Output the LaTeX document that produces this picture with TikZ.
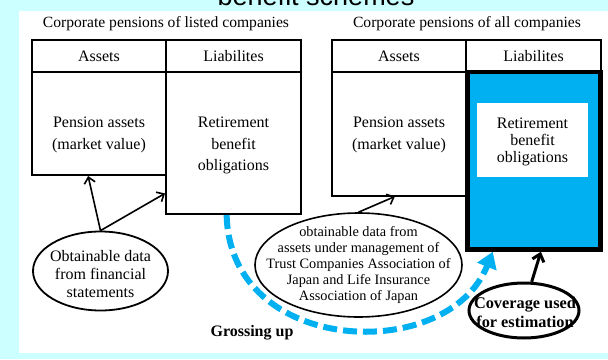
\documentclass[tikz,border=0pt]{standalone}
\usepackage{fontspec}
\setmainfont{Liberation Serif}
\newfontfamily\headfont{Liberation Sans}
\usetikzlibrary{shapes.geometric,arrows.meta,calc}
\definecolor{panelcyan}{HTML}{CCFFFF}
\definecolor{skyblue}{HTML}{00B0F0}

\begin{document}
\begin{tikzpicture}[x=1pt,y=-1pt,
  cell/.style={draw,line width=2pt,rectangle,inner sep=0pt,
    font=\fontsize{16}{21.5}\selectfont},
  bodytext/.style={align=center,inner sep=0pt,font=\fontsize{16}{21.5}\selectfont},
  caption/.style={inner sep=0pt,font=\fontsize{15.6}{18}\selectfont},
  bubble/.style={draw,ellipse,inner sep=0pt},
  pointer/.style={-{Straight Barb[length=6pt,width=11pt]},line width=1.6pt},
]
\useasboundingbox (0,0) rectangle (608,359);
\clip (0,0) rectangle (608,359);

% background band and white panel
\fill[panelcyan] (0,0) rectangle (608,359);
\fill[white] (19,11) rectangle (608,353);
\node[anchor=base,inner sep=0pt,font=\headfont\fontsize{27}{30}\selectfont]
  (title) at (316,5) {benefit schemes};

% listed companies
\node[caption] (lcap) at (166,24) {Corporate pensions of listed companies};
\node[cell,minimum width=134pt,minimum height=32pt] (lAH) at (99,56) {Assets};
\node[cell,minimum width=135pt,minimum height=32pt] (lLH) at (233.5,56) {Liabilites};
\node[cell,minimum width=134pt,minimum height=103pt] (lAB) at (99,123.5) {};
\node[cell,minimum width=135pt,minimum height=142pt] (lLB) at (233.5,143) {};
\node[bodytext] (lAT) at (99,135) {Pension assets\\(market value)};
\node[bodytext] (lLT) at (233.5,145.5) {Retirement\\benefit\\obligations};

% all companies
\node[caption] (rcap) at (467,24) {Corporate pensions of all companies};
\node[cell,minimum width=134pt,minimum height=32pt] (rAH) at (399,56) {Assets};
\node[cell,minimum width=135pt,minimum height=32pt] (rLH) at (533.5,56) {Liabilites};
\node[cell,minimum width=134pt,minimum height=124pt] (rAB) at (399,133.5) {};
\node[bodytext] (rAT) at (399,135) {Pension assets\\(market value)};
\node[draw,fill=skyblue,line width=4.5pt,rectangle,inner sep=0pt,
  minimum width=133pt,minimum height=177.5pt] (rLB) at (534,160.75) {};
\node[fill=white,inner sep=0pt,minimum width=111pt,minimum height=74pt]
  (rLW) at (532.5,140) {};
\node[align=center,inner sep=0pt,font=\fontsize{16}{17}\selectfont]
  (rLT) at (532.5,141.5) {Retirement\\benefit\\obligations};

% data sources: outlines first, wording set on top
\node[bubble,line width=1.8pt,minimum width=135pt,minimum height=79pt]
  (src) at (100.5,271) {};
\node[align=center,inner sep=0pt,font=\fontsize{16}{18}\selectfont]
  (srcT) at (100.5,274) {Obtainable data\\from financial\\statements};
\node[bubble,line width=1.6pt,minimum width=207pt,minimum height=104pt]
  (trust) at (358.5,265) {};
\node[align=center,inner sep=0pt,font=\fontsize{14.3}{16.2}\selectfont]
  (trustT) at (358.5,265) {obtainable data from\\assets under management of\\Trust Companies Association of\\Japan and Life Insurance\\Association of Japan};
\node[bubble,line width=3pt,minimum width=110pt,minimum height=55pt]
  (cover) at (524,310.5) {};
\node[align=center,inner sep=0pt,font=\bfseries\fontsize{16.3}{19}\selectfont]
  (coverT) at (525,312) {Coverage used\\for estimation};

\draw[pointer] (src.north) -- ($(lAB.south west)!0.42!(lAB.south east)$);
\draw[pointer] (src.north) -- ($(lLB.south west)!0.15!(lLB.north west)$);
\draw[pointer] (trust.north) -- ($(rAB.south west)!0.47!(rAB.south east)$);
\draw[-{Straight Barb[length=7pt,width=12pt]},line width=3pt]
  (cover.75) -- ($(rLB.south west)!0.55!(rLB.south east)$);

% grossing up
\draw[skyblue,line width=6pt,dash pattern=on 14pt off 6pt,
  -{Triangle[length=16pt,width=20pt]}]
  ($(lLB.south west)!0.45!(lLB.south east)$)
  .. controls +(3,141) and +(-45,113) ..
  ($(rLB.south west)!0.2!(rLB.south east)$);
\node[inner sep=0pt,font=\bfseries\fontsize{16}{18}\selectfont]
  (gross) at (252,333) {Grossing up};
\end{tikzpicture}
\end{document}
